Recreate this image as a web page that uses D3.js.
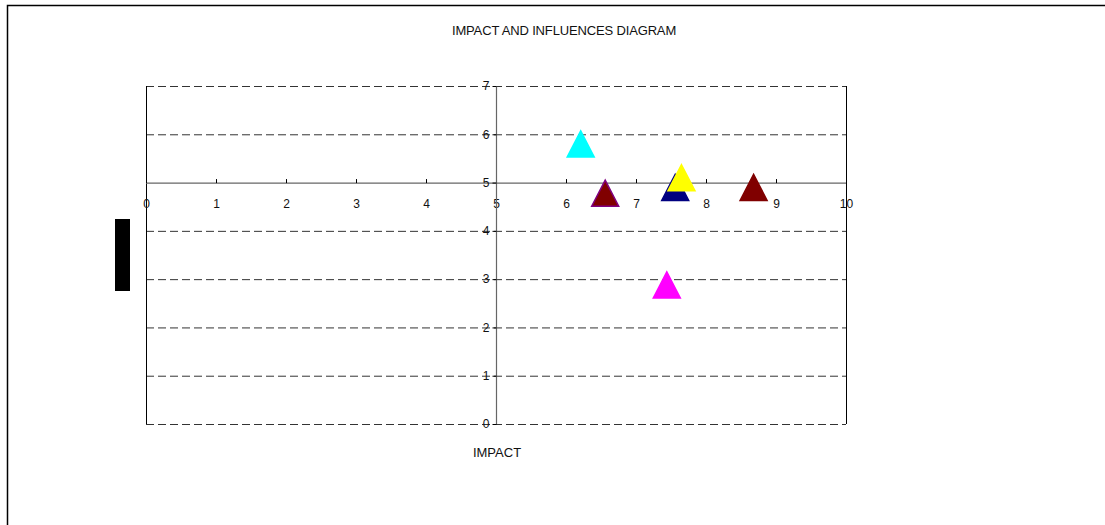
<!DOCTYPE html>
<html><head><meta charset="utf-8">
<script src="https://cdn.jsdelivr.net/npm/d3@7"></script>
<style>body{margin:0;background:#fff}svg{display:block;font-family:"Liberation Sans",Arial,sans-serif}</style>
</head><body>
<div id="chart"></div>
<script>
const xTicks = [0,1,2,3,4,5,6,7,8,9,10];
const yTicks = [0,1,2,3,4,5,6,7];
const pointsX = [6.21, 6.56, 7.56, 7.65, 8.68, 7.44];
const pointsY = [5.8, 4.78, 4.9, 5.1, 4.9, 2.88];
const pointFill = ["#00ffff", "#800000", "#000080", "#ffff00", "#800000", "#ff00ff"];
const pointStroke = ["#00ffff", "#800080", "#000080", "#ffff00", "#800000", "#ff00ff"];
const titleText = "IMPACT AND INFLUENCES DIAGRAM";
const xTitle = "IMPACT";

const W = 1105, H = 525;
const svg = d3.select("#chart").append("svg").attr("width", W).attr("height", H);

// outer frame
svg.append("path").attr("d", `M7.5,${H} L7.5,5.5 L${W},5.5`).attr("fill","none").attr("stroke","#000").attr("stroke-width",1.5);

const x = d3.scaleLinear().domain([0,10]).range([146,846]);
const y = d3.scaleLinear().domain([0,7]).range([424,86]);

// gridlines
svg.append("g").selectAll("line").data(yTicks).join("line")
  .attr("x1", x(0)).attr("x2", x(10))
  .attr("y1", d=>y(d)+0.5).attr("y2", d=>y(d)+0.5)
  .attr("stroke","#333").attr("stroke-width",1)
  .attr("stroke-dasharray", "8,4")
  .attr("display", d => d===5 ? "none" : null);

// plot area left/right borders
svg.append("line").attr("x1",x(0)+0.5).attr("x2",x(0)+0.5).attr("y1",y(7)).attr("y2",y(0)).attr("stroke","#000");
svg.append("line").attr("x1",x(10)+0.5).attr("x2",x(10)+0.5).attr("y1",y(7)).attr("y2",y(0)).attr("stroke","#000");

// x axis crossing at y=5
const xAxis = d3.axisBottom(x).tickValues(xTicks).tickSize(4).tickPadding(12).tickFormat(d3.format("d"));
const gx = svg.append("g").attr("transform",`translate(0,${y(5)+0.5})`).call(xAxis);
gx.select(".domain").attr("stroke","#666").attr("stroke-width",1.2).attr("d", `M${x(0)},0H${x(10)}`);
gx.selectAll(".tick line").attr("stroke","#000").attr("y1",-4).attr("y2",0);
gx.selectAll(".tick text").attr("font-size",12).attr("fill","#111").attr("font-family","Liberation Sans, Arial, sans-serif");

// y axis crossing at x=5
const yAxis = d3.axisLeft(y).tickValues(yTicks).tickSize(4).tickPadding(3).tickFormat(d3.format("d"));
const gy = svg.append("g").attr("transform",`translate(${x(5)+0.5},0)`).call(yAxis);
gy.select(".domain").attr("stroke","#666").attr("stroke-width",1.2).attr("d", `M0,${y(7)}V${y(0)}`);
gy.selectAll(".tick line").attr("stroke","#000").attr("x1",-4).attr("x2",0);
gy.selectAll(".tick text").attr("font-size",12).attr("fill","#111").attr("font-family","Liberation Sans, Arial, sans-serif");

// y title placeholder (black box)
svg.append("rect").attr("x",115).attr("y",219).attr("width",15).attr("height",72).attr("fill","#000");

// title
svg.append("text").attr("x",564).attr("y",35).attr("text-anchor","middle")
  .attr("font-size",13).attr("letter-spacing","-0.15").attr("fill","#111").text(titleText);
svg.append("text").attr("x",497).attr("y",457).attr("text-anchor","middle")
  .attr("font-size",13).attr("fill","#111").text(xTitle);

// points (triangles), centered on bounding box
const tw = 27, th = 26;
const triPath = `M0,${-th/2}L${tw/2},${th/2}L${-tw/2},${th/2}Z`;
const idx = d3.range(pointsX.length);
svg.append("g").selectAll("path").data(idx).join("path")
  .attr("d", triPath)
  .attr("transform", i => `translate(${x(pointsX[i])},${y(pointsY[i])})`)
  .attr("fill", i => pointFill[i])
  .attr("stroke", i => pointStroke[i])
  .attr("stroke-width", 1.5)
  .attr("stroke-linejoin","miter");
</script>
</body></html>
